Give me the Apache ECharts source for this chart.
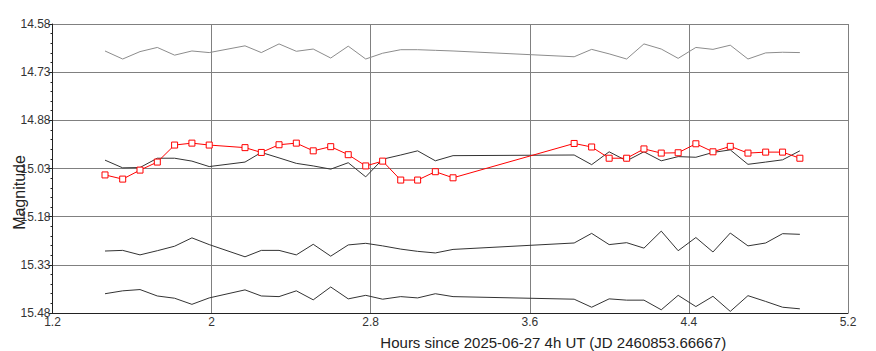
<!DOCTYPE html>
<html>
<head>
<meta charset="utf-8">
<script src="https://cdn.jsdelivr.net/npm/echarts@6/dist/echarts.min.js"></script>
<style>
  html, body { margin:0; padding:0; background:#fff; }
  #chart { width:876px; height:351px; }
</style>
</head>
<body>
<div id="chart"></div>
<script>
(function(){
  // hours since 2025-06-27 4h UT
  var hours = [1.464, 1.553, 1.640, 1.727, 1.814, 1.901, 1.988, 2.168, 2.250, 2.339,
    2.426, 2.511, 2.599, 2.687, 2.775, 2.860, 2.951, 3.036, 3.125, 3.214,
    3.823, 3.911, 3.999, 4.087, 4.174, 4.261, 4.346, 4.435, 4.521, 4.608,
    4.697, 4.786, 4.871, 4.958];
  var targetMag = [15.050, 15.063, 15.035, 15.010, 14.957, 14.951, 14.957, 14.965, 14.980, 14.956,
    14.951, 14.975, 14.962, 14.987, 15.022, 15.007, 15.066, 15.066, 15.040, 15.059,
    14.952, 14.963, 14.998, 14.998, 14.969, 14.982, 14.981, 14.953, 14.978, 14.961,
    14.982, 14.979, 14.979, 14.998];
  var compMag = [15.004, 15.028, 15.027, 14.998, 14.998, 15.007, 15.024, 15.010, 14.980, 14.997,
    15.014, 15.022, 15.032, 15.012, 15.056, 15.001, 14.988, 14.975, 15.006, 14.990,
    14.988, 15.018, 14.978, 15.006, 14.978, 15.006, 14.993, 14.995, 14.980, 14.972,
    15.017, 15.010, 15.003, 14.975];
  var topMag = [14.664, 14.689, 14.666, 14.653, 14.677, 14.664, 14.669, 14.648, 14.669, 14.642,
    14.665, 14.658, 14.686, 14.649, 14.689, 14.671, 14.660, 14.660, 14.662, 14.664,
    14.682, 14.659, 14.673, 14.689, 14.642, 14.658, 14.687, 14.653, 14.659, 14.646,
    14.689, 14.670, 14.668, 14.669];
  var checkMag = [15.287, 15.285, 15.299, 15.286, 15.272, 15.246, 15.267, 15.305, 15.285, 15.285,
    15.299, 15.266, 15.303, 15.268, 15.263, 15.271, 15.281, 15.288, 15.293, 15.282,
    15.262, 15.232, 15.267, 15.261, 15.278, 15.225, 15.286, 15.245, 15.290, 15.231,
    15.271, 15.262, 15.233, 15.235];
  var faintMag = [15.420, 15.411, 15.407, 15.427, 15.434, 15.453, 15.433, 15.408, 15.427, 15.429,
    15.411, 15.439, 15.399, 15.436, 15.425, 15.437, 15.429, 15.433, 15.420, 15.429,
    15.437, 15.462, 15.436, 15.440, 15.440, 15.470, 15.425, 15.460, 15.428, 15.475,
    15.426, 15.444, 15.462, 15.467];

  var xName = 'Hours since 2025-06-27 4h UT (JD 2460853.66667)';
  var yName = 'Magnitude';

  function pairs(vals) {
    return hours.map(function(h, i){ return [h, vals[i]]; });
  }
  function line(vals, color) {
    return {type:'line', data:pairs(vals), showSymbol:false, symbol:'none',
      lineStyle:{color:color, width:1}, itemStyle:{color:color}, z:2};
  }

  var chart = echarts.init(document.getElementById('chart'), null, {renderer:'svg'});
  chart.setOption({
    animation:false,
    textStyle:{fontFamily:'"Liberation Sans", Arial, sans-serif'},
    grid:{left:52.5, right:28, top:24, bottom:38, containLabel:false, outerBoundsMode:'none'},
    xAxis:{
      type:'value', min:1.2, max:5.2, interval:0.8,
      name:xName, nameLocation:'middle', nameGap:22, nameMoveOverlap:false,
      nameTextStyle:{color:'#222', fontSize:15, padding:[0,0,0,206]},
      axisLine:{onZero:false, lineStyle:{color:'#222'}},
      axisTick:{show:false},
      axisLabel:{color:'#333', fontSize:12, margin:3,
        formatter:function(v){ return String(parseFloat(v.toFixed(1))); }},
      splitLine:{lineStyle:{color:'#808080', width:1}}
    },
    yAxis:{
      type:'value', inverse:true, min:14.58, max:15.48, interval:0.15,
      name:yName, nameLocation:'middle', nameGap:25, nameMoveOverlap:false,
      nameTextStyle:{color:'#222', fontSize:16, padding:[0,48,0,0]},
      axisLine:{show:true, lineStyle:{color:'#222'}},
      axisTick:{show:true, length:4, lineStyle:{color:'#222'}},
      minorTick:{show:true, splitNumber:5, length:2, lineStyle:{color:'#222'}},
      axisLabel:{color:'#333', fontSize:12, margin:2,
        formatter:function(v){ return v.toFixed(2); }},
      splitLine:{lineStyle:{color:'#808080', width:1}}
    },
    series:[
      line(topMag, '#8c8c8c'),
      line(compMag, '#333'),
      line(checkMag, '#333'),
      line(faintMag, '#333'),
      {type:'line', data:pairs(targetMag), symbol:'rect', symbolSize:6,
        lineStyle:{color:'#ff0000', width:1},
        itemStyle:{color:'#fff', borderColor:'#ff0000', borderWidth:1}, z:5}
    ]
  });
})();
</script>
</body>
</html>
